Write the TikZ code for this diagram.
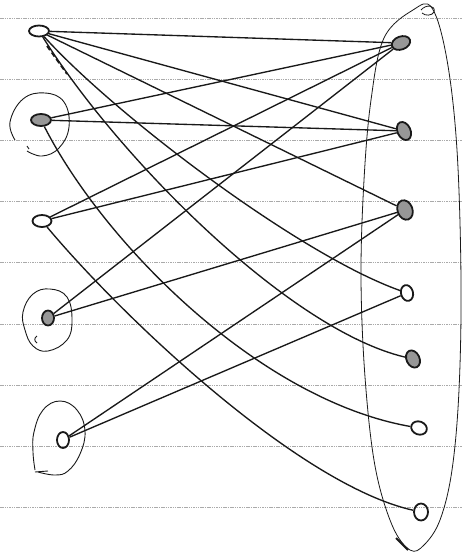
\documentclass[tikz,border=0pt]{standalone}
\usepackage{tikz}
\usetikzlibrary{shapes.geometric}
\definecolor{penInk}{RGB}{25,25,25}
\definecolor{ruleGray}{RGB}{170,170,170}

\begin{document}
\begin{tikzpicture}[x=1pt,y=-1pt,
    vtx/.style={ellipse, draw=penInk, line width=1.8pt, inner sep=0pt, minimum width=14pt, minimum height=11pt},
    inked/.style={fill=penInk!45},
    edge/.style={penInk, line width=1.35pt},
    ring/.style={penInk, line width=0.9pt}]
  \useasboundingbox (0,0) rectangle (462,554);
  % ruled paper
  \foreach \y in {18,79,140,201,262,324,385,446,507}
    \draw[ruleGray, line width=0.6pt, dash pattern=on 1.5pt off 0.8pt] (0,\y) -- (462,\y);

  % left vertices
  \node[vtx, minimum width=20pt, minimum height=11pt] (l1) at (39,31) {};
  \node[vtx, inked, minimum width=20pt, minimum height=12pt] (l2) at (41,120) {};
  \node[vtx, minimum width=19pt, minimum height=12pt] (l3) at (42,221) {};
  \node[vtx, inked, minimum width=12pt, minimum height=15pt] (l4) at (48,318) {};
  \node[vtx, minimum width=12pt, minimum height=16pt] (l5) at (63,440) {};

  % right vertices
  \node[vtx, inked, minimum width=19pt, minimum height=13pt, rotate=20] (r1) at (401,43) {};
  \node[vtx, inked, minimum width=13pt, minimum height=19pt, rotate=25] (r2) at (404,131) {};
  \node[vtx, inked, minimum width=15pt, minimum height=20pt, rotate=20] (r3) at (405,210) {};
  \node[vtx, minimum width=12pt, minimum height=16pt, rotate=15] (r4) at (407,293) {};
  \node[vtx, inked, minimum width=13pt, minimum height=18pt, rotate=25] (r5) at (413,359) {};
  \node[vtx, minimum width=16pt, minimum height=13pt, rotate=-20] (r6) at (419,428) {};
  \node[vtx, minimum width=14pt, minimum height=17pt] (r7) at (421,512) {};

  % rings round some left vertices
  \draw[ring] plot[smooth, tension=0.7] coordinates {(27,151) (42,156) (59,148) (69,127) (64,102) (45,93) (23,99) (10,122) (15,140)};
  \draw[ring] (27,146) -- (29,149);
  \draw[ring] plot[smooth cycle, tension=0.7] coordinates {(23,312) (33,294) (50,289) (67,297) (72,320) (67,340) (48,351) (33,346) (25,330)};
  \draw[ring] (37,336) .. controls (34,338) and (34,341) .. (37,343);
  \draw[ring] plot[smooth, tension=0.7] coordinates {(35,470) (33,452) (34,432) (43,410) (60,401) (77,410) (85,431) (80,454) (68,471) (55,475) (38,472)};
  \draw[ring] (35,472) -- (48,471);

  % big loop round the right side
  \draw[ring, line width=0.8pt] plot[smooth cycle, tension=0.6] coordinates {(413,10) (432,8) (447,60) (457,150) (461,280) (459,390) (452,470) (440,520) (424,545) (410,550) (392,525) (375,466) (365,377) (361,277) (364,180) (371,100) (384,38)};
  \draw[ring, line width=0.8pt] (421,10) .. controls (426,4) and (436,5) .. (434,12) .. controls (432,16) and (425,16) .. (422,13);
  \draw[edge, line width=1.8pt] (396,538) -- (408,550);

  % edges
  \draw[edge] (l1) -- (r1);
  \draw[edge] (l1) -- (r2);
  \draw[edge] (l1) -- (r3);
  \draw[edge] (l1) .. controls (115,115) and (300,255) .. (r4);
  \draw[edge] (l1) .. controls (120,160) and (290,330) .. (r5);
  \draw[edge] (l2) -- (r1);
  \draw[edge] (l2) -- (r2);
  \draw[edge] (l2) .. controls (105,245) and (260,400) .. (r6);
  \draw[edge] (l3) -- (r1);
  \draw[edge] (l3) -- (r2);
  \draw[edge] (l3) .. controls (125,320) and (300,485) .. (r7);
  \draw[edge] (l4) -- (r1);
  \draw[edge] (l4) -- (r3);
  \draw[edge] (l5) -- (r3);
  \draw[edge] (l5) -- (r4);
  \draw[edge, line width=1.8pt, dash pattern=on 5pt off 3pt] (47,46) -- (67,74);
\end{tikzpicture}
\end{document}
